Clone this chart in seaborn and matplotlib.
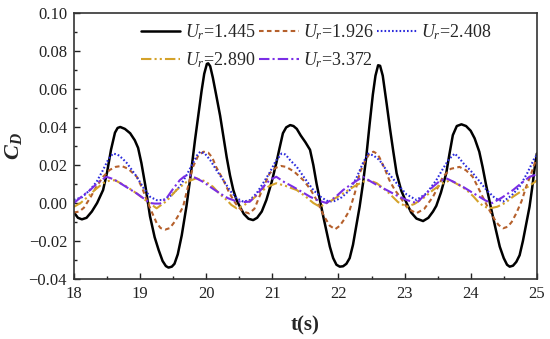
import numpy as np
import pandas as pd
import matplotlib
matplotlib.use('Agg')
import matplotlib.pyplot as plt
import seaborn as sns

# values: (time t in s, drag coefficient C_D)
cd_1445 = [(18.0, -0.005), (18.06, -0.0078), (18.12, -0.0086), (18.19, -0.0078), (18.27, -0.0045),
           (18.35, 0.0), (18.44, 0.0068), (18.50, 0.016), (18.56, 0.028), (18.62, 0.037),
           (18.66, 0.0395), (18.70, 0.040), (18.77, 0.039), (18.85, 0.0367), (18.92, 0.033),
           (18.97, 0.029), (19.02, 0.021), (19.08, 0.009), (19.15, -0.007), (19.22, -0.018),
           (19.28, -0.0247), (19.34, -0.0305), (19.39, -0.0332), (19.43, -0.034), (19.48, -0.0335),
           (19.52, -0.032), (19.57, -0.027), (19.63, -0.017), (19.70, -0.002), (19.77, 0.016),
           (19.83, 0.033), (19.88, 0.046), (19.93, 0.059), (19.97, 0.068), (20.01, 0.0732),
           (20.03, 0.0735), (20.06, 0.072), (20.10, 0.066), (20.15, 0.057), (20.21, 0.046),
           (20.26, 0.035), (20.31, 0.024), (20.36, 0.0145), (20.41, 0.0068), (20.46, 0.0015),
           (20.51, -0.002), (20.57, -0.0058), (20.64, -0.0083), (20.71, -0.009), (20.77, -0.0078),
           (20.84, -0.0045), (20.91, 0.0016), (20.99, 0.011), (21.06, 0.021), (21.11, 0.029),
           (21.16, 0.0367), (21.21, 0.0398), (21.27, 0.041), (21.32, 0.0405), (21.37, 0.039),
           (21.43, 0.0355), (21.50, 0.032), (21.57, 0.028), (21.62, 0.020), (21.67, 0.010),
           (21.72, 0.0015), (21.77, -0.007), (21.82, -0.015), (21.87, -0.023), (21.92, -0.029),
           (21.97, -0.0325), (22.02, -0.0335), (22.07, -0.0333), (22.12, -0.032), (22.17, -0.029),
           (22.22, -0.022), (22.27, -0.012), (22.32, -0.002), (22.37, 0.010), (22.42, 0.024),
           (22.47, 0.041), (22.52, 0.057), (22.56, 0.067), (22.60, 0.0725), (22.63, 0.0722),
           (22.67, 0.067), (22.73, 0.052), (22.78, 0.039), (22.83, 0.027), (22.88, 0.0156),
           (22.95, 0.0065), (23.03, 0.0), (23.10, -0.005), (23.18, -0.0082), (23.28, -0.0095),
           (23.36, -0.0078), (23.43, -0.0045), (23.48, -0.0015), (23.55, 0.0055), (23.63, 0.0156),
           (23.68, 0.026), (23.73, 0.0357), (23.79, 0.0405), (23.86, 0.0414), (23.93, 0.0405),
           (24.00, 0.038), (24.06, 0.034), (24.13, 0.027), (24.18, 0.019), (24.23, 0.010),
           (24.30, -0.0015), (24.38, -0.014), (24.44, -0.023), (24.50, -0.029), (24.55, -0.0325),
           (24.59, -0.0335), (24.64, -0.033), (24.69, -0.031), (24.74, -0.0275), (24.79, -0.020),
           (24.84, -0.011), (24.89, -0.002), (24.93, 0.008), (24.97, 0.019), (25.0, 0.026)]

cd_1926 = [(18.0, -0.005), (18.08, -0.0045), (18.15, -0.0025), (18.25, 0.003), (18.34, 0.0086),
           (18.44, 0.0138), (18.54, 0.0174), (18.63, 0.019), (18.72, 0.0195), (18.82, 0.018),
           (18.95, 0.0138), (19.03, 0.008), (19.10, 0.0016), (19.18, -0.005), (19.25, -0.0105),
           (19.31, -0.0132), (19.38, -0.014), (19.45, -0.0132), (19.52, -0.010), (19.58, -0.0065),
           (19.65, -0.002), (19.72, 0.008), (19.80, 0.019), (19.88, 0.025), (19.96, 0.027),
           (20.03, 0.0265), (20.09, 0.024), (20.15, 0.019), (20.26, 0.012), (20.34, 0.006),
           (20.41, 0.0016), (20.48, -0.002), (20.56, -0.0045), (20.65, -0.0055), (20.73, -0.003),
           (20.80, 0.003), (20.88, 0.0095), (20.96, 0.0156), (21.05, 0.0185), (21.13, 0.0195),
           (21.21, 0.019), (21.33, 0.0165), (21.47, 0.012), (21.57, 0.0075), (21.67, 0.0016),
           (21.74, -0.004), (21.80, -0.008), (21.87, -0.012), (21.95, -0.0138), (22.02, -0.012),
           (22.09, -0.0085), (22.17, -0.0037), (22.25, 0.0055), (22.32, 0.0156), (22.40, 0.022),
           (22.47, 0.026), (22.53, 0.027), (22.58, 0.026), (22.62, 0.024), (22.70, 0.018),
           (22.77, 0.012), (22.85, 0.007), (22.93, 0.0033), (23.05, -0.003), (23.18, -0.0054),
           (23.30, -0.003), (23.43, 0.0033), (23.50, 0.008), (23.58, 0.0138), (23.70, 0.018),
           (23.83, 0.019), (23.93, 0.0172), (24.03, 0.0138), (24.10, 0.009), (24.18, 0.0033),
           (24.27, -0.003), (24.35, -0.008), (24.42, -0.0115), (24.49, -0.0133), (24.56, -0.0125),
           (24.62, -0.010), (24.69, -0.0054), (24.77, 0.001), (24.84, 0.0086), (24.91, 0.015),
           (24.97, 0.021), (25.0, 0.023)]

cd_2408 = [(18.0, 0.0016), (18.12, 0.003), (18.24, 0.0068), (18.34, 0.011), (18.44, 0.0174),
           (18.52, 0.023), (18.59, 0.026), (18.66, 0.0255), (18.73, 0.0235), (18.80, 0.021),
           (18.95, 0.0138), (19.05, 0.008), (19.15, 0.0033), (19.25, 0.0015), (19.35, 0.0016),
           (19.47, 0.004), (19.60, 0.0086), (19.70, 0.0145), (19.80, 0.021), (19.86, 0.025),
           (19.91, 0.027), (19.98, 0.026), (20.06, 0.0226), (20.16, 0.017), (20.26, 0.012),
           (20.36, 0.0065), (20.46, 0.0025), (20.56, 0.0007), (20.66, 0.0015), (20.76, 0.005),
           (20.86, 0.0104), (20.96, 0.016), (21.05, 0.022), (21.14, 0.026), (21.20, 0.0255),
           (21.27, 0.0225), (21.37, 0.019), (21.50, 0.0125), (21.62, 0.0068), (21.72, 0.0035),
           (21.82, 0.0012), (21.92, 0.0007), (22.05, 0.003), (22.17, 0.0068), (22.27, 0.013),
           (22.37, 0.021), (22.45, 0.026), (22.53, 0.025), (22.62, 0.0226), (22.75, 0.016),
           (22.88, 0.0104), (23.03, 0.0045), (23.18, 0.0016), (23.33, 0.005), (23.48, 0.012),
           (23.58, 0.018), (23.67, 0.023), (23.76, 0.026), (23.83, 0.0235), (23.91, 0.020),
           (23.99, 0.0174), (24.12, 0.012), (24.24, 0.0068), (24.37, 0.0025), (24.49, 0.0007),
           (24.62, 0.004), (24.74, 0.0086), (24.86, 0.016), (24.97, 0.024), (25.0, 0.025)]

cd_2890 = [(18.0, -0.002), (18.1, 0.0), (18.2, 0.003), (18.32, 0.007), (18.44, 0.0104),
           (18.53, 0.0117), (18.62, 0.012), (18.78, 0.009), (18.95, 0.005), (19.10, 0.001),
           (19.25, -0.0028), (19.40, 0.001), (19.55, 0.0068), (19.70, 0.011), (19.85, 0.013),
           (19.98, 0.0115), (20.1, 0.0086), (20.21, 0.0045), (20.31, 0.0016), (20.38, -0.001),
           (20.46, -0.0028), (20.56, -0.0015), (20.70, 0.002), (20.86, 0.0068), (20.96, 0.009),
           (21.06, 0.0104), (21.20, 0.009), (21.37, 0.0068), (21.50, 0.0035), (21.62, 0.0),
           (21.72, -0.002), (21.88, 0.001), (22.07, 0.005), (22.25, 0.009), (22.42, 0.012),
           (22.50, 0.0115), (22.58, 0.0104), (22.67, 0.008), (22.77, 0.005), (22.90, 0.0005),
           (23.03, -0.002), (23.15, -0.0005), (23.30, 0.003), (23.43, 0.0068), (23.56, 0.010),
           (23.69, 0.012), (23.82, 0.0095), (23.94, 0.0068), (24.04, 0.0035), (24.13, 0.0),
           (24.21, -0.002), (24.29, -0.0028), (24.40, -0.002), (24.52, 0.0), (24.64, 0.0033),
           (24.80, 0.007), (24.97, 0.011), (25.0, 0.012)]

cd_3372 = [(18.0, 0.0), (18.12, 0.0035), (18.25, 0.007), (18.37, 0.011), (18.49, 0.0138),
           (18.60, 0.0125), (18.70, 0.0104), (18.82, 0.0078), (18.95, 0.005), (19.05, 0.0025),
           (19.15, 0.0), (19.22, -0.0003), (19.30, -0.0003), (19.40, 0.0025), (19.50, 0.0075),
           (19.60, 0.012), (19.67, 0.014), (19.75, 0.0147), (19.85, 0.013), (19.96, 0.011),
           (20.08, 0.008), (20.21, 0.005), (20.33, 0.0025), (20.45, 0.001), (20.56, 0.0005),
           (20.66, 0.0007), (20.78, 0.005), (20.91, 0.0104), (20.98, 0.0125), (21.06, 0.0138),
           (21.18, 0.011), (21.31, 0.0086), (21.44, 0.006), (21.57, 0.0033), (21.70, 0.0012),
           (21.82, 0.0), (21.95, 0.003), (22.07, 0.0068), (22.22, 0.0105), (22.37, 0.0138),
           (22.48, 0.0115), (22.58, 0.0095), (22.73, 0.0068), (22.88, 0.004), (23.03, 0.0016),
           (23.18, 0.0), (23.30, 0.004), (23.43, 0.0086), (23.53, 0.0115), (23.63, 0.013),
           (23.75, 0.011), (23.88, 0.0086), (24.00, 0.006), (24.13, 0.0033), (24.23, 0.0012),
           (24.33, 0.0), (24.48, 0.003), (24.64, 0.0068), (24.77, 0.0105), (24.89, 0.0138),
           (25.0, 0.015)]

labels = ['1.445', '1.926', '2.408', '2.890', '3.372']

sns.set_style('ticks')
plt.rcParams['font.family'] = ['Liberation Serif', 'DejaVu Serif']
plt.rcParams['mathtext.fontset'] = 'custom'
plt.rcParams['mathtext.rm'] = 'Liberation Serif'
plt.rcParams['mathtext.it'] = 'Liberation Serif:italic'
plt.rcParams['mathtext.bf'] = 'Liberation Serif:bold'
plt.rcParams['mathtext.bfit'] = 'Liberation Serif:italic:bold'

fig = plt.figure(figsize=(5.5, 3.39), dpi=100)
ax = fig.add_axes([0.1345, 0.177, 0.8415, 0.7847])

series = [
    (cd_1445, '#000000', '-', 1.8),
    (cd_1926, '#b5602c', (0, (2.2, 1.6)), 1.5),
    (cd_2408, '#2b2bdc', (0, (0.8, 1.0)), 1.5),
    (cd_2890, '#d4a22a', (0, (5, 1.5, 1, 1.5, 1, 1.5)), 1.5),
    (cd_3372, '#7a2ee6', (0, (5, 1.5, 1, 1.5)), 1.5),
]
handles = []
for (pts, c, ls, lw), lab in zip(series, labels):
    df = pd.DataFrame(pts, columns=['t', 'cd'])
    sns.lineplot(data=df, x='t', y='cd', ax=ax, color=c, linewidth=lw,
                 sort=False, estimator=None)
    ax.lines[-1].set_linestyle(ls)
    ax.lines[-1].set_label(r'$U_r$=' + lab)
    handles.append(ax.lines[-1])

ax.set_xlim(18, 25)
ax.set_ylim(-0.04, 0.10)
ax.set_xticks(np.arange(18, 26, 1))
ax.set_yticks([-0.04, -0.02, 0.0, 0.02, 0.04, 0.06, 0.08, 0.10])
ax.set_yticklabels(['\u22120.04', '\u22120.02', '0.00', '0.02', '0.04', '0.06', '0.08', '0.10'])
ax.set_xticks(np.arange(18.5, 25, 1), minor=True)
ax.set_yticks(np.arange(-0.03, 0.1, 0.02), minor=True)
ax.tick_params(which='both', direction='in', labelsize=12, width=1.0, colors='#222222')
ax.tick_params(which='major', length=4, pad=5)
ax.tick_params(which='minor', length=2.5)
for s in ax.spines.values():
    s.set_linewidth(1.2)
    s.set_color('#333333')

ax.set_xlabel('t(s)', fontsize=15, fontweight='bold', labelpad=10)
ax.set_ylabel(r'$\mathbfit{C_D}$', fontsize=16, labelpad=3)

order = [0, 3, 1, 4, 2]
ax.legend([handles[i] for i in order], [handles[i].get_label() for i in order],
          ncol=3, frameon=False, fontsize=13, loc='upper left',
          bbox_to_anchor=(0.144, 0.966), handlelength=2.2, handletextpad=0.25,
          columnspacing=0.2, labelspacing=0.45, borderaxespad=0, borderpad=0)

fig.savefig('out.png', dpi=100)
